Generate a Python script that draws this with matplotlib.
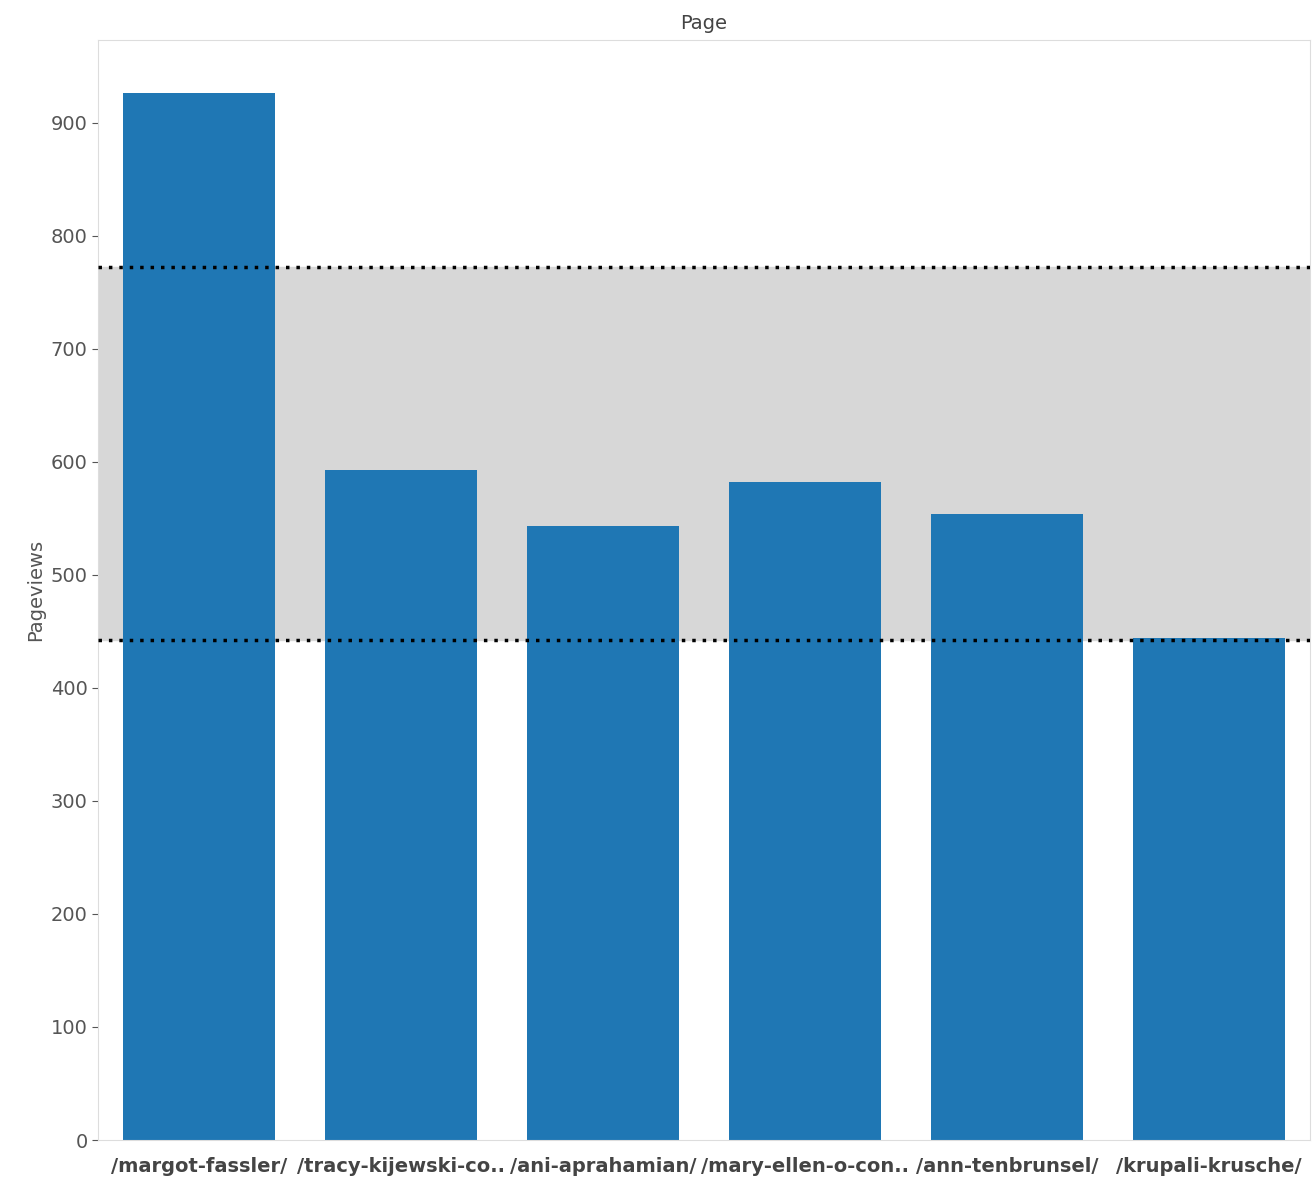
import numpy as np
import matplotlib.pyplot as plt

pages = ['/margot-fassler/', '/tracy-kijewski-co..', '/ani-aprahamian/',
         '/mary-ellen-o-con..', '/ann-tenbrunsel/', '/krupali-krusche/']
pageviews = [926, 593, 543, 582, 554, 444]
band_low, band_high = 442, 772

W, H = 1312, 1182
fig = plt.figure(figsize=(W/100, H/100), dpi=100)
ax = fig.add_axes([98/W, 1 - 1140/H, (1310-98)/W, (1140-40)/H])

x = np.arange(len(pages))
ax.axhspan(band_low, band_high, color='#d7d7d7', zorder=0)
ax.bar(x, pageviews, width=0.75, color='#1f77b4', zorder=2)
for v in (band_low, band_high):
    ax.axhline(v, color='black', ls=(0, (1, 2)), lw=2.5, zorder=3)

ax.set_xlim(-0.5, len(pages) - 0.5)
ax.set_ylim(0, 973)
ax.set_yticks(range(0, 1000, 100))
ax.tick_params(axis='y', labelsize=14, colors='#555555', length=4)
ax.set_xticks(x)
ax.set_xticklabels(pages, fontsize=14, fontweight='bold', color='#444444')
ax.tick_params(axis='x', length=0, pad=12)
ax.set_ylabel('Pageviews', fontsize=14, color='#555555')
ax.set_title('Page', fontsize=14, color='#444444', pad=8)
for s in ax.spines.values():
    s.set_color('#dddddd')

fig.savefig('out.png', dpi=100)
